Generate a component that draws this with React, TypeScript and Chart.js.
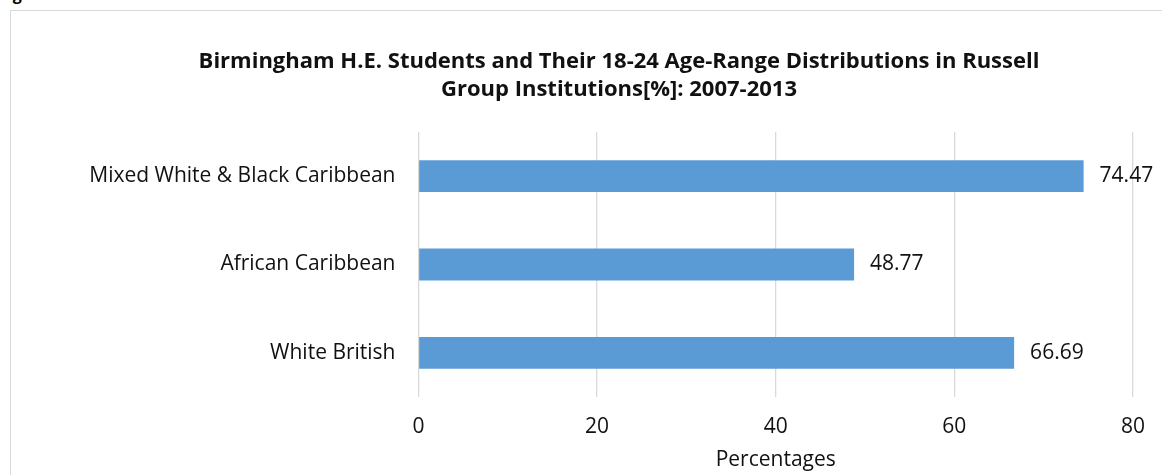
import React, { useEffect, useRef } from "react";
import { Chart, registerables } from "chart.js";

Chart.register(...registerables);

const categories = ["Mixed White & Black Caribbean", "African Caribbean", "White British"];
const percentages = [74.47, 48.77, 66.69];
const xMin = 0;
const xMax = 80;
const xStep = 20;
const titleLines = [
  "Birmingham H.E. Students and Their 18-24 Age-Range Distributions in Russell",
  "Group Institutions[%]: 2007-2013",
];
const axisTitle = "Percentages";
const captionText = "Figure";

const FONT = "'Open Sans', 'DejaVu Sans', sans-serif";
const TEXT = "#111111";
const BAR = "#5B9BD5";
const GRID = "#D9D9D9";

// Title lines and value labels painted on top of the chart.
const annotate = {
  id: "annotate",
  afterDraw(chart: any) {
    const { ctx } = chart;
    ctx.save();
    ctx.fillStyle = TEXT;
    ctx.textAlign = "center";
    ctx.textBaseline = "alphabetic";
    ctx.font = `bold 22px ${FONT}`;
    titleLines.forEach((line, i) => {
      ctx.fillText(line, 608, 57 + i * 28);
    });

    ctx.font = `21px ${FONT}`;
    ctx.textAlign = "left";
    ctx.textBaseline = "middle";
    const meta = chart.getDatasetMeta(0);
    meta.data.forEach((bar: any, i: number) => {
      ctx.fillText(percentages[i].toFixed(2), bar.x + 16, bar.y);
    });
    ctx.restore();
  },
};

export default function App() {
  const canvasRef = useRef<HTMLCanvasElement | null>(null);

  useEffect(() => {
    if (!canvasRef.current) return;
    const chart = new Chart(canvasRef.current, {
      type: "bar",
      data: {
        labels: categories,
        datasets: [
          {
            data: percentages,
            backgroundColor: BAR,
            borderWidth: 0,
            barPercentage: 0.36,
            categoryPercentage: 1,
          },
        ],
      },
      options: {
        indexAxis: "y",
        responsive: false,
        animation: false,
        layout: { padding: { left: 0, top: 121, right: 29, bottom: 0 } },
        plugins: {
          legend: { display: false },
          title: { display: false },
          tooltip: { enabled: false },
        },
        scales: {
          x: {
            min: xMin,
            max: xMax,
            ticks: {
              stepSize: xStep,
              color: TEXT,
              padding: 17,
              font: { family: FONT, size: 21 },
            },
            grid: { color: GRID, lineWidth: 1.3, drawTicks: false },
            border: { display: false },
            title: {
              display: true,
              text: axisTitle,
              color: TEXT,
              font: { family: FONT, size: 21 },
              padding: { top: 0, bottom: 2 },
            },
            afterFit(scale: any) {
              scale.height = 78;
            },
          },
          y: {
            ticks: {
              color: TEXT,
              padding: 23,
              font: { family: FONT, size: 21 },
            },
            grid: { display: false, drawTicks: false },
            border: { display: false },
            afterFit(scale: any) {
              scale.width = 407.5;
            },
          },
        },
      },
      plugins: [annotate],
    });
    return () => chart.destroy();
  }, []);

  return (
    <div
      style={{
        position: "fixed",
        left: 0,
        top: 0,
        width: 1162,
        height: 475,
        overflow: "hidden",
        background: "#ffffff",
      }}
    >
      <div
        style={{
          position: "absolute",
          left: -1,
          top: -17,
          font: `bold 16px ${FONT}`,
          color: "#000",
          whiteSpace: "nowrap",
        }}
      >
        {captionText}
      </div>
      <div
        style={{
          position: "absolute",
          left: 10,
          top: 10,
          width: 1200,
          height: 520,
          border: `1px solid ${GRID}`,
          boxSizing: "border-box",
        }}
      >
        <canvas ref={canvasRef} width={1151} height={464} style={{ display: "block" }} />
      </div>
    </div>
  );
}
